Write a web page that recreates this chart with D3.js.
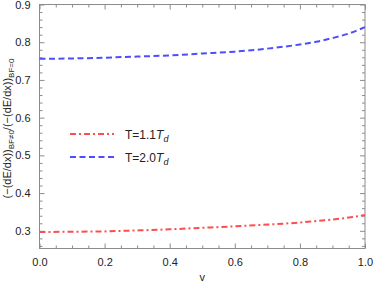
<!DOCTYPE html>
<html>
<head>
<meta charset="utf-8">
<script src="https://cdn.jsdelivr.net/npm/d3@7"></script>
<style>
  body { margin: 0; background: #fff; }
  text { font-family: "Liberation Sans", Arial, sans-serif; }
</style>
</head>
<body>
<svg id="chart" width="374" height="285"></svg>
<script>
// values
const vValues = [0, 0.1, 0.2, 0.3, 0.4, 0.5, 0.6, 0.7, 0.8, 0.85, 0.9, 0.95, 1.0];
const ratioT11 = [0.297, 0.2975, 0.2985, 0.301, 0.304, 0.308, 0.312, 0.3165, 0.322, 0.326, 0.330, 0.335, 0.342];
const ratioT20 = [0.756, 0.757, 0.759, 0.762, 0.765, 0.770, 0.775, 0.783, 0.794, 0.801, 0.811, 0.823, 0.840];
const xTicks = [0, 0.2, 0.4, 0.6, 0.8, 1.0];
const yTicks = [0.3, 0.4, 0.5, 0.6, 0.7, 0.8, 0.9];
const seriesNames = ['T=1.1', 'T=2.0'];

const frameL = 39.5, frameR = 365, frameT = 4.5, frameB = 248.5;

const svg = d3.select('#chart');

const x = d3.scaleLinear().domain([0, 1]).range([frameL, frameR]);
const y = d3.scaleLinear().domain([0.2531, 0.9]).range([frameB, frameT]);

const frameColor = '#8c8c8c';

// frame
svg.append('rect')
  .attr('x', frameL).attr('y', frameT)
  .attr('width', frameR - frameL).attr('height', frameB - frameT)
  .attr('fill', 'none')
  .attr('stroke', frameColor)
  .attr('stroke-width', 1);

const xMinor = d3.range(0, 1.0001, 0.05).filter(d => !xTicks.some(t => Math.abs(t - d) < 1e-6));
const yMinor = d3.range(0.26, 0.9001, 0.02).filter(d => !yTicks.some(t => Math.abs(t - d) < 1e-6));

// inward ticks on all four sides
function addAxis(axis, transform) {
  const g = svg.append('g').attr('transform', transform).call(axis);
  g.select('.domain').remove();
  g.selectAll('line').attr('stroke', frameColor);
  g.selectAll('text')
    .attr('fill', '#222')
    .style('font-size', '11px');
  return g;
}

addAxis(
  d3.axisBottom(x).tickValues(xTicks).tickFormat(d3.format('.1f')).tickSizeInner(-5).tickPadding(10),
  `translate(0,${frameB})`);
addAxis(d3.axisBottom(x).tickValues(xMinor).tickFormat('').tickSizeInner(-3), `translate(0,${frameB})`);
addAxis(d3.axisTop(x).tickValues(xTicks).tickFormat('').tickSizeInner(-5), `translate(0,${frameT})`);
addAxis(d3.axisTop(x).tickValues(xMinor).tickFormat('').tickSizeInner(-3), `translate(0,${frameT})`);

addAxis(
  d3.axisLeft(y).tickValues(yTicks).tickFormat(d3.format('.1f')).tickSizeInner(-5).tickPadding(9),
  `translate(${frameL},0)`);
addAxis(d3.axisLeft(y).tickValues(yMinor).tickFormat('').tickSizeInner(-3), `translate(${frameL},0)`);
addAxis(d3.axisRight(y).tickValues(yTicks).tickFormat('').tickSizeInner(-5), `translate(${frameR},0)`);
addAxis(d3.axisRight(y).tickValues(yMinor).tickFormat('').tickSizeInner(-3), `translate(${frameR},0)`);

// curves
const line = d3.line()
  .x(d => x(d[0]))
  .y(d => y(d[1]))
  .curve(d3.curveMonotoneX);

const styles = [
  { color: '#ff4d4d', dash: '6,3,2,3' },
  { color: '#4d4dff', dash: '6,3.5' }
];

[ratioT11, ratioT20].forEach((vals, i) => {
  svg.append('path')
    .datum(vValues.map((v, k) => [v, vals[k]]))
    .attr('d', line)
    .attr('fill', 'none')
    .attr('stroke', styles[i].color)
    .attr('stroke-width', 2)
    .attr('stroke-dasharray', styles[i].dash);
});

// legend
const legendY = [134, 157];
seriesNames.forEach((name, i) => {
  svg.append('line')
    .attr('x1', 70).attr('x2', 114)
    .attr('y1', legendY[i]).attr('y2', legendY[i])
    .attr('stroke', styles[i].color)
    .attr('stroke-width', 2)
    .attr('stroke-dasharray', styles[i].dash);

  const t = svg.append('text')
    .attr('x', 125).attr('y', legendY[i] + 4.5)
    .attr('fill', '#222')
    .style('font-size', '12px');
  t.append('tspan').text(name);
  t.append('tspan').attr('font-style', 'italic').text('T');
  t.append('tspan').attr('font-style', 'italic').attr('dy', 3).style('font-size', '9px').text('d');
});

// axis titles
svg.append('text')
  .attr('x', (frameL + frameR) / 2)
  .attr('y', 281)
  .attr('text-anchor', 'middle')
  .attr('fill', '#222')
  .style('font-size', '11px')
  .text('v');

const yl = svg.append('text')
  .attr('transform', `translate(11,${(frameT + frameB) / 2 + 2}) rotate(-90)`)
  .attr('text-anchor', 'middle')
  .attr('fill', '#222')
  .style('font-size', '11px');
yl.append('tspan').text('(−(dE/dx))');
yl.append('tspan').attr('dy', 3).style('font-size', '8px').text('BF≠0');
yl.append('tspan').attr('dy', -3).text('/(−(dE/dx))');
yl.append('tspan').attr('dy', 3).style('font-size', '8px').text('BF=0');
</script>
</body>
</html>
